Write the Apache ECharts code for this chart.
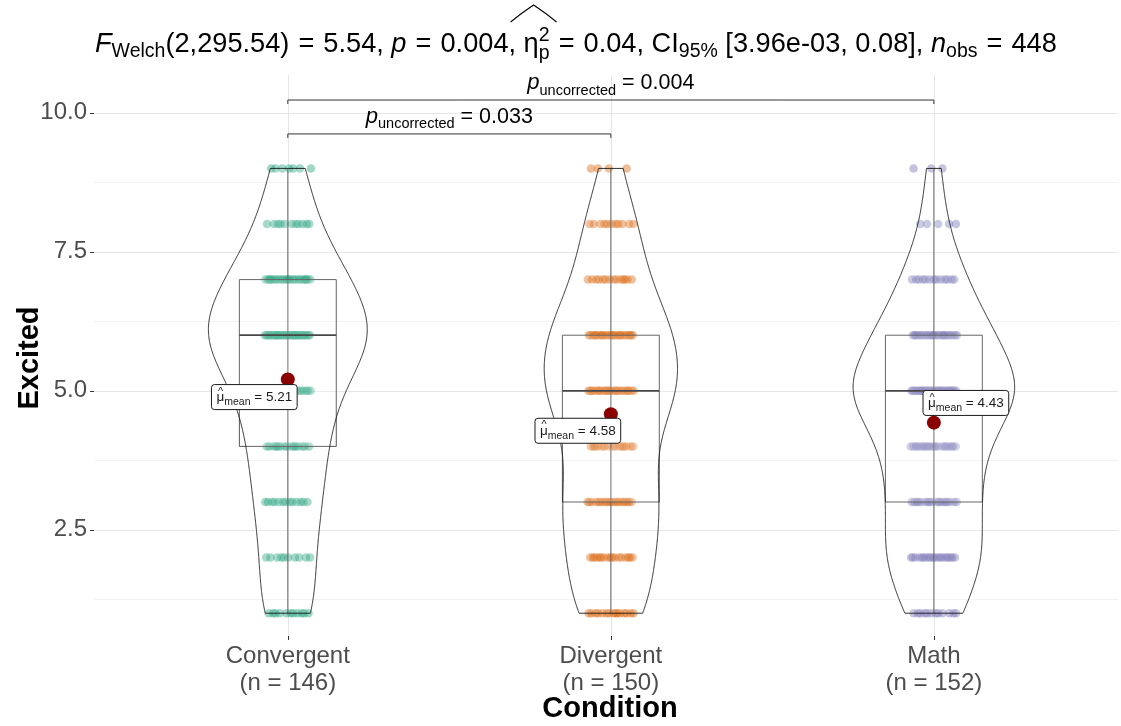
<!DOCTYPE html>
<html>
<head>
<meta charset="utf-8">
<script src="https://cdn.jsdelivr.net/npm/echarts@6/dist/echarts.min.js"></script>
<style>
  html, body { margin: 0; padding: 0; background: #ffffff; }
  #chart { width: 1121px; height: 726px; }
</style>
</head>
<body>
<div id="chart"></div>
<script>
// ---- data -------------------------------------------------------------
const categories = ['Convergent', 'Divergent', 'Math'];
const scoreLevels = [1, 2, 3, 4, 5, 6, 7, 8, 9];
// number of respondents giving each score (1..9)
const countsConvergent = [11, 10, 13, 15, 19, 36, 24, 11, 7];
const countsDivergent  = [15, 17, 20, 15, 28, 26, 14, 11, 4];
const countsMath       = [12, 20, 18, 20, 37, 24, 13, 5, 3];
const yTicks = [2.5, 5, 7.5, 10];
const yMinorTicks = [1.25, 3.75, 6.25, 8.75];
// pairwise comparisons: group indices, p-value text, bracket height
const comparePairs = [[0, 1], [0, 2]];
const compareP = ['0.033', '0.004'];
const compareLevels = [9.62, 10.23];
// Welch ANOVA summary
const fDf = '2,295.54';
const fValue = '5.54';
const pValue = '0.004';
const etaValue = '0.04';
const ciLow = '3.96e-03';
const ciHigh = '0.08';

// ---- style ------------------------------------------------------------
const FONT = '"Liberation Sans", Arial, sans-serif';
const palette = ['27,158,119', '217,95,2', '117,112,179'];
const groupCounts = [countsConvergent, countsDivergent, countsMath];

// ---- statistics -------------------------------------------------------
function expand(counts) {
  const out = [];
  counts.forEach((c, i) => { for (let k = 0; k < c; k++) out.push(scoreLevels[i]); });
  return out;
}
function quantile(sorted, p) {
  const h = (sorted.length - 1) * p, lo = Math.floor(h);
  const hi = Math.min(lo + 1, sorted.length - 1);
  return sorted[lo] + (h - lo) * (sorted[hi] - sorted[lo]);
}
const groups = groupCounts.map(counts => {
  const v = expand(counts);
  const n = v.length;
  const mean = v.reduce((a, b) => a + b, 0) / n;
  const sd = Math.sqrt(v.reduce((a, b) => a + (b - mean) * (b - mean), 0) / (n - 1));
  const q1 = quantile(v, 0.25), med = quantile(v, 0.5), q3 = quantile(v, 0.75);
  const bw = 0.9 * Math.min(sd, (q3 - q1) / 1.34) * Math.pow(n, -0.2);
  const lo = v[0], hi = v[n - 1];
  const dens = [];
  for (let i = 0; i < 512; i++) {
    const y = lo + (hi - lo) * i / 511;
    let d = 0;
    for (const x of v) { const z = (y - x) / bw; d += Math.exp(-0.5 * z * z); }
    dens.push([y, d / (n * bw * Math.sqrt(2 * Math.PI))]);
  }
  return { v, n, mean, q1, med, q3, lo, hi, dens };
});
const maxDensity = Math.max(...groups.map(g => Math.max(...g.dens.map(d => d[1]))));
const nObs = groups.reduce((a, g) => a + g.n, 0);

// horizontal jitter: deterministic low-discrepancy spread within ±0.072
function jitterPoints(g, gi) {
  const golden = 0.6180339887;
  return g.v.map((val, k) => {
    const u = ((k + 1) * golden + gi * 0.37) % 1;
    return [gi + 1 + (2 * u - 1) * 0.072, val];
  });
}

// ---- text layout helper (sub/superscripts) ----------------------------
const mctx = document.createElement('canvas').getContext('2d');
function measure(t) {
  mctx.font = (t.italic ? 'italic ' : '') + (t.bold ? 'bold ' : '') + t.size + 'px ' + FONT;
  return mctx.measureText(t.text).width;
}
function layoutTokens(tokens, anchorX, baseline, align, color) {
  let x = 0, prevStart = 0, prevAdv = 0;
  const placed = [];
  tokens.forEach(t => {
    const w = measure(t) + (t.pad || 0);
    let start;
    if (t.stack) { start = prevStart; prevAdv = Math.max(prevAdv, w); x = prevStart + prevAdv; }
    else { start = x; prevStart = start; prevAdv = w; x = start + w; }
    placed.push({ t, start, w });
  });
  const total = x;
  const off = align === 'center' ? anchorX - total / 2 : (align === 'right' ? anchorX - total : anchorX);
  const els = placed.map(({ t, start }) => ({
    type: 'text',
    x: off + start + (t.dx || 0),
    y: baseline + (t.dy || 0) - 0.31 * t.size,
    style: {
      text: t.text, fontSize: t.size, fontFamily: FONT,
      fontStyle: t.italic ? 'italic' : 'normal', fontWeight: t.bold ? 'bold' : 'normal',
      fill: t.color || color || '#000', align: 'left', verticalAlign: 'middle'
    }
  }));
  return { els, width: total, left: off, placed: placed.map(p => ({ start: p.start + off, w: p.w, t: p.t })) };
}

// ---- title ------------------------------------------------------------
const TS = 27.2, ts = 19.5;
const EQ = () => ({ text: ' = ', size: TS, dx: 1.5, pad: 3 });
const titleTokens = [
  { text: 'F', size: TS, italic: true },
  { text: 'Welch', size: ts, dy: 5 },
  { text: '(' + fDf + ')', size: TS },
  EQ(),
  { text: fValue + ', ', size: TS },
  { text: 'p', size: TS, italic: true },
  EQ(),
  { text: pValue + ', ', size: TS },
  { text: 'η', size: TS, key: 'eta' },
  { text: 'p', size: ts, dy: 7 },
  { text: '2', size: ts, dy: -11, stack: true, key: 'sup' },
  EQ(),
  { text: etaValue + ', CI', size: TS },
  { text: '95%', size: ts, dy: 5 },
  { text: ' [' + ciLow + ', ' + ciHigh + '], ', size: TS },
  { text: 'n', size: TS, italic: true },
  { text: 'obs', size: ts, dy: 5 },
  EQ(),
  { text: String(nObs), size: TS }
];
const titleLayout = layoutTokens(titleTokens, 95, 53, 'left', '#000');
const etaTok = titleLayout.placed.find(p => p.t.key === 'eta');
const supIdx = titleLayout.placed.findIndex(p => p.t.key === 'sup');
const etaStart = etaTok.start;
const etaEnd = titleLayout.placed[supIdx].start +
  Math.max(titleLayout.placed[supIdx].w, titleLayout.placed[supIdx - 1].w);
const hatL = etaStart - 13, hatR = etaEnd + 7, hatM = (hatL + hatR) / 2;

// ---- chart ------------------------------------------------------------
const chart = echarts.init(document.getElementById('chart'), null, { renderer: 'canvas' });

const meanLabelOffsets = [[-33.5, 17.7], [-33, 16.6], [32, -19.7]];

const option = {
  animation: false,
  backgroundColor: '#ffffff',
  grid: { left: 94, right: 3, top: 75, bottom: 90 },
  xAxis: {
    type: 'value', min: 0.4, max: 3.57,
    axisLine: { show: false },
    splitLine: { show: false },
    axisTick: { show: true, customValues: [1, 2, 3], length: 4, lineStyle: { color: '#333333', width: 1 } },
    axisLabel: {
      customValues: [1, 2, 3], margin: 7,
      fontSize: 24, lineHeight: 27, fontFamily: FONT, color: '#4d4d4d',
      formatter: v => categories[Math.round(v) - 1] + '\n(n = ' + groups[Math.round(v) - 1].n + ')'
    }
  },
  yAxis: {
    type: 'value', min: 0.59, max: 10.68,
    axisLine: { show: false },
    splitLine: { show: false },
    axisTick: { show: true, customValues: yTicks, length: 4, lineStyle: { color: '#333333', width: 1 } },
    axisLabel: {
      customValues: yTicks, margin: 7,
      fontSize: 24, fontFamily: FONT, color: '#4d4d4d',
      formatter: v => Number(v).toFixed(1)
    }
  },
  graphic: [
    ...titleLayout.els,
    {
      type: 'polyline',
      shape: { points: [[hatL, 22], [hatL + (hatR - hatL) * 0.22, 14], [hatM, 5], [hatR - (hatR - hatL) * 0.22, 14], [hatR, 22]] },
      style: { stroke: '#000', lineWidth: 1.1, fill: null }
    },
    {
      type: 'text', x: 610, y: 709,
      style: { text: 'Condition', fontSize: 29, fontWeight: 'bold', fontFamily: FONT, fill: '#000', align: 'center', verticalAlign: 'middle' }
    },
    {
      type: 'text', x: 30, y: 358, rotation: Math.PI / 2,
      style: { text: 'Excited', fontSize: 29, fontWeight: 'bold', fontFamily: FONT, fill: '#000', align: 'center', verticalAlign: 'middle' }
    }
  ],
  series: [
    // panel grid lines
    {
      type: 'custom', silent: true, z: 0,
      data: [[0, 0]],
      renderItem(params, api) {
        const cs = params.coordSys;
        const children = [];
        yMinorTicks.forEach(v => {
          const y = Math.round(api.coord([1, v])[1]) + 0.5;
          children.push({ type: 'line', shape: { x1: cs.x, y1: y, x2: cs.x + cs.width, y2: y }, style: { stroke: '#f2f2f2', lineWidth: 1 } });
        });
        yTicks.forEach(v => {
          const y = Math.round(api.coord([1, v])[1]) + 0.5;
          children.push({ type: 'line', shape: { x1: cs.x, y1: y, x2: cs.x + cs.width, y2: y }, style: { stroke: '#e6e6e6', lineWidth: 1 } });
        });
        [1, 2, 3].forEach(v => {
          const x = Math.round(api.coord([v, 1])[0]) + 0.5;
          children.push({ type: 'line', shape: { x1: x, y1: cs.y, x2: x, y2: cs.y + cs.height }, style: { stroke: '#e6e6e6', lineWidth: 1 } });
        });
        return { type: 'group', children };
      }
    },
    // jittered raw scores
    ...groups.map((g, gi) => ({
      type: 'scatter', name: categories[gi], silent: true, z: 2,
      symbolSize: 8.5,
      itemStyle: { color: 'rgba(' + palette[gi] + ',0.42)', opacity: 1 },
      data: jitterPoints(g, gi)
    })),
    // box plots
    {
      type: 'custom', silent: true, z: 3,
      data: groups.map((g, gi) => [gi + 1, g.med]),
      renderItem(params, api) {
        const g = groups[params.dataIndex], cx = params.dataIndex + 1;
        const tl = api.coord([cx - 0.15, g.q3]), br = api.coord([cx + 0.15, g.q1]);
        const top = api.coord([cx, g.hi]), bot = api.coord([cx, g.lo]);
        const m1 = api.coord([cx - 0.15, g.med]), m2 = api.coord([cx + 0.15, g.med]);
        return {
          type: 'group', children: [
            { type: 'line', shape: { x1: top[0], y1: top[1], x2: bot[0], y2: bot[1] }, style: { stroke: '#555555', lineWidth: 1 } },
            { type: 'rect', shape: { x: tl[0], y: tl[1], width: br[0] - tl[0], height: br[1] - tl[1] }, style: { fill: 'rgba(255,255,255,0.15)', stroke: '#555555', lineWidth: 1 } },
            { type: 'line', shape: { x1: m1[0], y1: m1[1], x2: m2[0], y2: m2[1] }, style: { stroke: '#333333', lineWidth: 1.8 } }
          ]
        };
      }
    },
    // violins (scaled by area, trimmed to data range)
    {
      type: 'custom', silent: true, z: 4,
      data: groups.map((g, gi) => [gi + 1, g.med]),
      renderItem(params, api) {
        const g = groups[params.dataIndex], cx = params.dataIndex + 1;
        const pts = [];
        g.dens.forEach(([y, d]) => pts.push(api.coord([cx - 0.25 * d / maxDensity, y])));
        for (let i = g.dens.length - 1; i >= 0; i--) {
          const [y, d] = g.dens[i];
          pts.push(api.coord([cx + 0.25 * d / maxDensity, y]));
        }
        return { type: 'polygon', shape: { points: pts }, style: { fill: 'rgba(255,255,255,0.1)', stroke: '#1a1a1a', lineWidth: 0.9 } };
      }
    },
    // group means
    {
      type: 'scatter', silent: true, z: 5,
      symbolSize: 14,
      itemStyle: { color: '#8b0000', opacity: 1 },
      data: groups.map((g, gi) => [gi + 1, g.mean])
    },
    // mean labels
    {
      type: 'custom', silent: true, z: 6,
      data: groups.map((g, gi) => [gi + 1, g.mean]),
      renderItem(params, api) {
        const i = params.dataIndex, g = groups[i];
        const p = api.coord([i + 1, g.mean]);
        const cx = p[0] + meanLabelOffsets[i][0], cy = p[1] + meanLabelOffsets[i][1];
        const lay = layoutTokens([
          { text: 'μ', size: 13.5 },
          { text: '^', size: 11, dy: -6.5, dx: 1.5, stack: true },
          { text: 'mean', size: 10.5, dy: 4 },
          { text: ' = ' + g.mean.toFixed(2), size: 13.5 }
        ], cx, cy + 4.5, 'center', '#1a1a1a');
        const w = lay.width + 10, h = 25;
        return {
          type: 'group', children: [
            { type: 'rect', shape: { x: cx - w / 2, y: cy - h / 2, width: w, height: h, r: 3 }, style: { fill: '#ffffff', stroke: '#1a1a1a', lineWidth: 1 } },
            ...lay.els
          ]
        };
      }
    },
    // pairwise comparison brackets
    {
      type: 'custom', silent: true, z: 6,
      data: comparePairs.map((pr, k) => [pr[0] + 1, compareLevels[k]]),
      renderItem(params, api) {
        const k = params.dataIndex, pr = comparePairs[k], lvl = compareLevels[k];
        const a = api.coord([pr[0] + 1, lvl]), b = api.coord([pr[1] + 1, lvl]);
        const tip = 4;
        const lay = layoutTokens([
          { text: 'p', size: 22, italic: true },
          { text: 'uncorrected', size: 14.5, dy: 5 },
          { text: ' = ' + compareP[k], size: 21.5 }
        ], (a[0] + b[0]) / 2, a[1] - 10, 'center', '#000');
        return {
          type: 'group', children: [
            { type: 'polyline', shape: { points: [[a[0], a[1] + tip], [a[0], a[1]], [b[0], b[1]], [b[0], b[1] + tip]] }, style: { stroke: '#333333', lineWidth: 1, fill: null } },
            ...lay.els
          ]
        };
      }
    }
  ]
};
chart.setOption(option);
</script>
</body>
</html>
